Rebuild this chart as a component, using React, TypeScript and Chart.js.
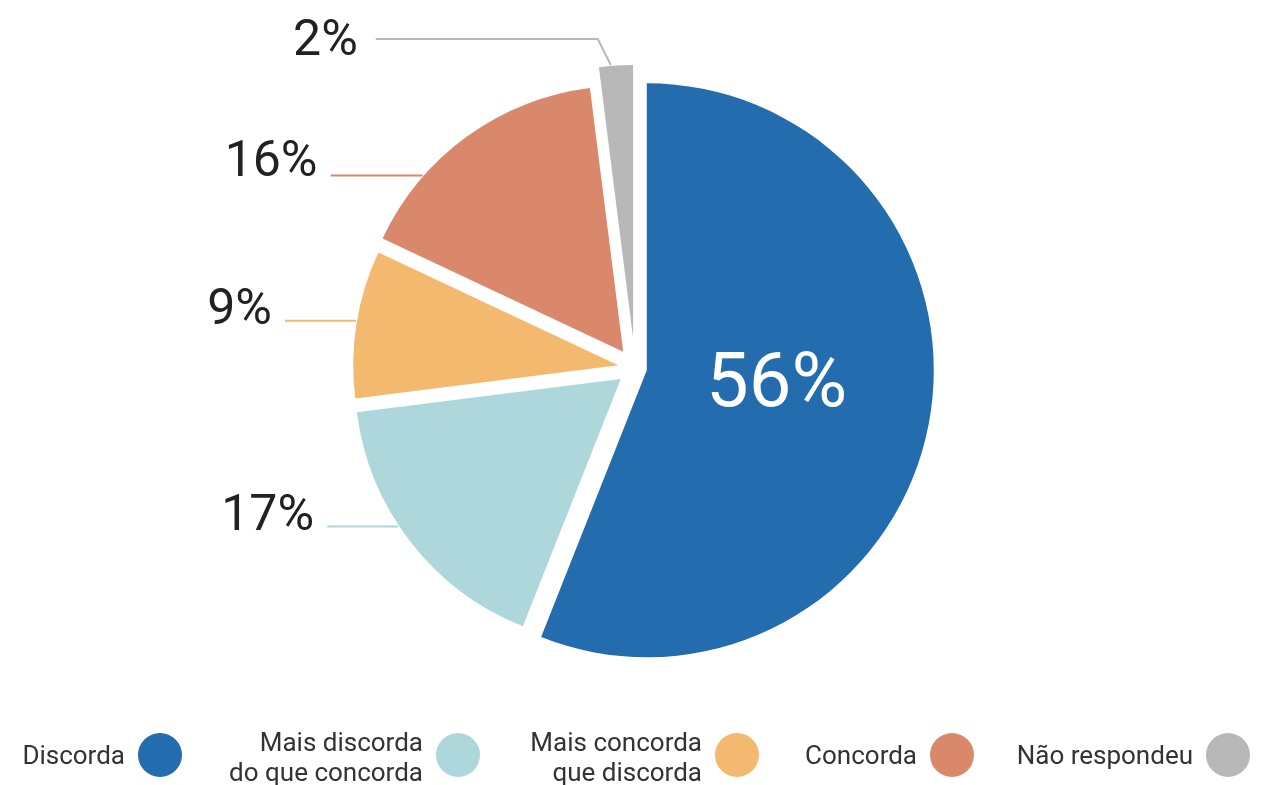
import React, { useEffect, useRef } from "react";
import { Chart, ArcElement, registerables } from "chart.js";

Chart.register(...registerables);

const categories = [
  "Discorda",
  "Mais discorda do que concorda",
  "Mais concorda que discorda",
  "Concorda",
  "Não respondeu",
];
const legendLines = [
  ["Discorda"],
  ["Mais discorda", "do que concorda"],
  ["Mais concorda", "que discorda"],
  ["Concorda"],
  ["Não respondeu"],
];
const values = [56, 17, 9, 16, 2];
const valueLabels = ["56%", "17%", "9%", "16%", "2%"];
const colors = ["#236CAD", "#AED7DB", "#F3B96E", "#D9886C", "#B8B8B8"];

// style / layout (not data)
const sliceShift = [12, 18, 17, 20, 30];
const sliceRadius = [287, 266, 265, 266, 273];
const labelFrac = [0, 0.57, 0.52, 0.28, 0.35];
const leaderLen = [0, 71, 71, 92, 222];
const labelDy = [0, 4, 3, 0, 15];
const legendX = [160, 458, 737, 952, 1228];

const W = 1262;
const H = 785;

function arcGeom(arc: any, i: number) {
  const mid = (arc.startAngle + arc.endAngle) / 2;
  const cx = arc.x + Math.cos(mid) * sliceShift[i];
  const cy = arc.y + Math.sin(mid) * sliceShift[i];
  return { cx, cy, r: sliceRadius[i], mid };
}

// explode each slice by translating the library's own arc drawing
const explodePlugin = {
  id: "explode",
  afterDatasetsUpdate(chart: any) {
    const meta = chart.getDatasetMeta(0);
    meta.data.forEach((arc: any, i: number) => {
      arc.outerRadius = sliceRadius[i];
      arc.draw = function (ctx: CanvasRenderingContext2D) {
        const mid = (this.startAngle + this.endAngle) / 2;
        ctx.save();
        ctx.translate(Math.cos(mid) * sliceShift[i], Math.sin(mid) * sliceShift[i]);
        ArcElement.prototype.draw.call(this, ctx);
        ctx.restore();
      };
    });
  },
};

const labelPlugin = {
  id: "pieLabels",
  beforeDatasetsDraw(chart: any) {
    const ctx = chart.ctx;
    const meta = chart.getDatasetMeta(0);
    ctx.save();
    ctx.lineWidth = 2;
    meta.data.forEach((arc: any, i: number) => {
      if (i === 0) return;
      const { cx, cy, r } = arcGeom(arc, i);
      const a = arc.startAngle + labelFrac[i] * (arc.endAngle - arc.startAngle);
      const px = cx + Math.cos(a) * (r + 1);
      const py = cy + Math.sin(a) * (r + 1);
      ctx.strokeStyle = colors[i];
      ctx.beginPath();
      if (i === 4) {
        const ex = px - 13;
        const ey = py - 26;
        ctx.moveTo(px, py);
        ctx.lineTo(ex, ey);
        ctx.lineTo(ex - leaderLen[i], ey);
      } else {
        ctx.moveTo(px, py);
        ctx.lineTo(px - leaderLen[i], py);
      }
      ctx.stroke();
    });
    ctx.restore();
  },
  afterDatasetsDraw(chart: any) {
    const ctx = chart.ctx;
    const meta = chart.getDatasetMeta(0);
    ctx.save();
    meta.data.forEach((arc: any, i: number) => {
      const { cx, cy, r, mid } = arcGeom(arc, i);
      if (i === 0) {
        const a = mid - 0.12;
        const x = cx + Math.cos(a) * r * 0.46;
        const y = cy + Math.sin(a) * r * 0.46;
        ctx.font = '400 76px Roboto, "DejaVu Sans", sans-serif';
        ctx.fillStyle = "#ffffff";
        ctx.textAlign = "center";
        ctx.textBaseline = "alphabetic";
        ctx.fillText(valueLabels[i], x - 2, y + 27);
        return;
      }
      const a = arc.startAngle + labelFrac[i] * (arc.endAngle - arc.startAngle);
      const px = cx + Math.cos(a) * r;
      const py = cy + Math.sin(a) * r;
      ctx.font = '400 50px Roboto, "DejaVu Sans", sans-serif';
      ctx.fillStyle = "#222222";
      ctx.textAlign = "right";
      ctx.textBaseline = "alphabetic";
      if (i === 4) {
        const ex = px - 13;
        const ey = py - 26;
        ctx.fillText(valueLabels[i], ex - leaderLen[i] - 18, ey + labelDy[i]);
      } else {
        ctx.fillText(valueLabels[i], px - leaderLen[i] - 14, py + labelDy[i]);
      }
    });
    ctx.restore();
  },
};

export default function App() {
  const ref = useRef<HTMLCanvasElement | null>(null);

  useEffect(() => {
    if (!ref.current) return;
    const chart = new Chart(ref.current, {
      type: "pie",
      data: {
        labels: categories,
        datasets: [
          {
            data: values,
            backgroundColor: colors,
            borderWidth: 0,
            offset: 0,
            hoverOffset: 0,
          },
        ],
      },
      options: {
        responsive: false,
        animation: false,
        events: [],
        layout: { padding: { left: 8, right: 0, top: 0, bottom: 49 } },
        plugins: {
          legend: { display: false },
          tooltip: { enabled: false },
        },
      },
      plugins: [explodePlugin, labelPlugin],
    });
    return () => chart.destroy();
  }, []);

  return (
    <div
      style={{
        position: "fixed",
        left: 0,
        top: 0,
        width: W,
        height: H,
        overflow: "hidden",
        background: "#ffffff",
        fontFamily: "Roboto, sans-serif",
      }}
    >
      <canvas ref={ref} width={W} height={H} style={{ position: "absolute", left: 0, top: 0 }} />
      {legendLines.map((lines, i) => {
        const cx = legendX[i];
        const top = lines.length > 1 ? 727 : 740;
        return (
          <React.Fragment key={i}>
            <div
              style={{
                position: "absolute",
                right: W - (cx - 22 - 13),
                top,
                textAlign: "right",
                fontSize: 26,
                lineHeight: "30px",
                color: "#333333",
                whiteSpace: "nowrap",
              }}
            >
              {lines.map((l, j) => (
                <div key={j}>{l}</div>
              ))}
            </div>
            <div
              style={{
                position: "absolute",
                left: cx - 22,
                top: 733,
                width: 44,
                height: 44,
                borderRadius: "50%",
                background: colors[i],
              }}
            />
          </React.Fragment>
        );
      })}
    </div>
  );
}
